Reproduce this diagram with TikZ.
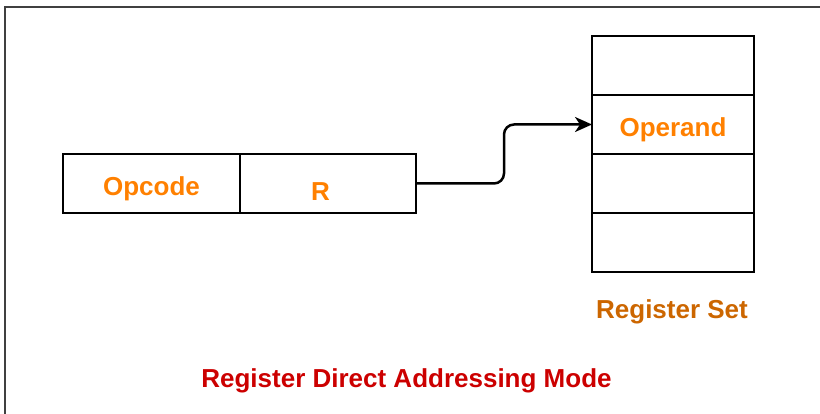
\documentclass[tikz,border=0pt]{standalone}
\usepackage{fontspec}
\setmainfont{Liberation Sans}
\usetikzlibrary{positioning,arrows.meta}
\definecolor{fieldorange}{HTML}{FF8000}
\definecolor{setorange}{HTML}{CC6600}
\definecolor{titlered}{HTML}{CC0000}

\begin{document}
\begin{tikzpicture}[x=1pt,y=-1pt,node distance=0pt,
    txt/.style={font=\fontsize{26}{28}\selectfont\bfseries},
    field/.style={draw,line width=2.5pt,outer sep=0pt,minimum height=59pt,
      text=fieldorange,txt,text height=24pt,text depth=0pt},
    cell/.style={field,minimum width=162pt}]
   \useasboundingbox (0,0) rectangle (820,414);
   \draw[line width=2.5pt,black!75] (5,414) -- (5,7) -- (820,7);
   % instruction
   \node[field,minimum width=177pt] (opcode) at (151.5,183.5) {Opcode};
   \node[field,minimum width=176pt] (r) [right=of opcode] {};
   \node[txt,text=fieldorange,anchor=base] (rname) at (320.5,201) {R};
   % register set
   \node[cell] (reg1) at (673,65.5) {};
   \node[cell] (reg2) [below=of reg1] {Operand};
   \node[cell] (reg3) [below=of reg2] {};
   \node[cell] (reg4) [below=of reg3] {};
   \node[txt,text=setorange,anchor=base] (setlabel) at (672,319) {Register Set};
   \node[txt,text=titlered,anchor=base] (title) at (406.5,387) {Register Direct Addressing Mode};
    \draw[-{Stealth[length=17pt,width=15pt,inset=5pt]},line width=2.5pt,rounded corners=10pt]
    (r.east) -- ++(88,0) |- (reg2.west);
\end{tikzpicture}
\end{document}
